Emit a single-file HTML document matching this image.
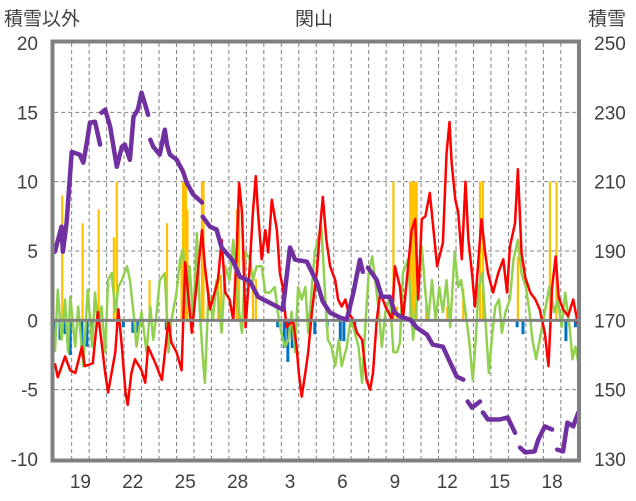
<!DOCTYPE html>
<html><head><meta charset="utf-8"><style>
html,body{margin:0;padding:0;background:#fff;width:636px;height:501px;overflow:hidden}
svg text{font-family:"Liberation Sans","Noto Sans CJK JP",sans-serif;fill:#404040}
</style></head><body>
<svg id="chart" width="636" height="501" viewBox="0 0 636 501" xmlns="http://www.w3.org/2000/svg">
<text x="4" y="25" font-size="19">積雪以外</text>
<text x="314" y="25" font-size="19" text-anchor="middle">関山</text>
<text x="588" y="25" font-size="19">積雪</text>
<g id="grid"></g>
<g id="marks"></g>
<g id="axes"></g>
</svg>
<script>
const leftTicks=[20,15,10,5,0,-5,-10];
const rightTicks=[250,230,210,190,170,150,130];
const xTickLabels=["19","22","25","28","3","6","9","12","15","18"];
const xTickDays=[1,4,7,10,13,16,19,22,25,28];
// precipitation bars [hour, value]
const precipHours=[11,39,61,82,86,131,155,175,177,179,181,183,203,205,225,229,251,254,273,277,466,471,489,492,495,498,511,540,562,585,589,637,681,690];
const precipVals=[9,7,8,6,10,2.9,7,5,10,10,10,8,10,10,3.3,3.3,8,8,3,3,10,1,10,10,10,10,1.3,1,2.3,10,10,4.6,10,10];
// negative (blue) bars
const negHours=[1,8,15,22,38,45,52,95,108,115,154,307,316,321,327,358,375,393,398,413,636,644,703,716];
const negVals=[-1.4,-1.4,-1,-2.5,-1.9,-1.9,-1.5,-0.5,-0.9,-0.9,-0.7,-0.5,-2,-3,-2,-1,-0.5,-1.5,-1.5,-0.8,-0.5,-1,-1.5,-0.5];
// red series
const redHours=[1,5,15,22,29,38,42,53,60,70,74,84,88,93,98,101,106,111,120,125,129,139,148,157,161,168,175,180,189,203,207,214,225,230,235,241,246,251,254,258,263,269,273,277,280,285,290,294,299,306,310,314,319,328,333,336,340,345,349,354,361,365,369,374,379,386,390,395,400,404,411,416,423,429,434,438,443,448,455,459,464,468,475,479,491,496,500,505,510,516,526,534,539,543,546,551,555,560,565,569,574,578,587,592,596,603,610,617,622,626,633,637,642,647,654,661,667,674,679,684,689,693,699,706,713,720];
const redVals=[-3.1,-4.1,-2.6,-3.6,-3.8,-1.9,-3.3,-3.1,0.6,-3.8,-5.2,-2.3,0.8,-1.9,-5.2,-6.1,-3.8,-2.8,-3.6,-4.5,-1.9,-3.1,-4.3,0,-1.6,-2.3,-3.6,4.2,-0.9,6.5,3.9,0.8,2.9,5.8,2,1.5,0,5.3,9.9,7.8,-0.5,4.2,7.8,10.4,7.8,4.4,6.5,4.9,8.7,6.5,3.4,2.4,-0.5,0,-1.9,-3.8,-5.5,-3.8,-2.3,0.6,3.6,6.5,8.9,5.8,3.9,2.9,1.5,1,1.5,0.6,0,-0.9,-1.4,-4.3,-5,-3.8,0,2,1,0.6,0,3.9,2.4,0,6.5,7.3,1.5,7.3,7.5,9.2,3.9,5.6,12,14.3,11.4,8.7,7.8,4.4,10,5.8,3.4,1,7.3,4.9,3.4,2,3.4,4.4,2,5.3,7,10.9,4.9,3.1,2,1.5,0.8,-0.9,-3.3,2.4,4.6,1.7,0.8,0.3,1.5,-0.4];
// green series
const greenHours=[1,5,10,15,19,22,29,33,40,46,52,56,60,65,70,74,79,84,88,93,100,104,109,113,120,127,132,136,141,145,152,157,161,168,173,177,182,186,191,196,200,205,207,212,218,223,230,235,241,246,253,258,263,269,273,278,285,290,296,303,307,312,317,322,326,331,335,340,345,349,354,358,362,367,372,376,381,386,391,395,402,407,411,418,423,428,432,437,441,446,450,455,461,466,471,475,479,486,493,500,505,510,514,519,524,529,534,539,544,550,555,559,565,570,575,579,583,588,593,597,602,606,611,615,620,626,631,637,642,648,653,657,662,667,674,680,687,692,697,702,708,712,716,721];
const greenVals=[-2.3,2.2,-1.4,1.5,-2.3,1.7,-1.9,1,-3.3,2.2,-1.9,2,-0.4,1,-2.3,2.9,3.4,0.6,2.4,2.9,3.9,2.9,0.6,-1.9,0.6,-2.3,1,-1.4,0.6,2.9,3.4,-2.3,0,2,4.4,5.1,1,3.9,0,6.3,0.6,-3.3,-4.5,2,0,2.9,-0.9,3.9,2.9,5.8,1,-0.9,4.9,4.4,2.9,3.9,3.9,2,2,2.4,0.6,-0.9,-1.9,-1.4,0.6,-2.3,2.4,1.5,2.4,-0.9,2.4,4.9,5.8,6.8,2,-1.4,-1.9,-3.3,-1.4,-3.3,-1.9,0,-0.5,-1.9,-4.5,0,3.4,4.6,2.9,0.6,-1.9,0.6,1.7,-2.3,-2.3,-1.6,3.4,4.4,-1.4,2.4,5.3,2,0,2.9,0,2.4,0.6,2.9,-0.5,4.9,2.4,2.9,0.6,-1.4,-4.3,-1.4,2.4,3.4,-0.5,-3.8,-0.9,1,1.5,-0.9,0.6,1.5,4.4,5.8,3.4,2.4,0.6,-1.4,-2.8,-1.4,0.6,2.4,0.6,1.5,-0.5,2,-0.5,-2.8,-1.9,-3.3];
// snow depth (right axis), null = gap
const snowHours=[1,10,12,17,24,35,40,45,49,56,63,64,65,70,77,86,93,97,104,109,115,120,125,129,130,132,136,145,152,155,159,168,177,182,191,203,203.5,204,214,223,230,242,246,255,269,280,296,314,324,331,347,361,369,379,393,402,411,420,424,427,431,443,450,461,468,475,489,498,512,520,534,544,553,562,565,568,574,585,587,589,596,612,623,633,636,640,647,660,665,674,684,687,691,699,705,713,720];
const snowVals=[189.8,197,189.8,198.2,218.6,217.8,215.5,221.5,227,227.3,220.7,null,229.9,230.8,225.8,214.3,220.1,220.7,216.3,228.7,230.8,235.7,232.2,229.3,null,222.1,220.1,217.8,225,220.7,217.8,216.4,212.9,209.7,206.3,204,null,199.9,197,196.2,191,188.1,186.9,182.6,181.2,176.8,175.1,173.1,191,187.5,186.9,180.9,175.4,172.2,170.8,170.2,178,187.5,184,null,185.2,181.7,176.8,176.8,172.2,171.1,170.2,167.9,165.9,163,162.4,157.8,153.8,152.9,null,146.6,144.8,146.6,null,143.4,141.4,141.4,142,137.6,null,133.3,131.9,132.2,135.6,139.4,138.5,null,132.7,132.2,140.5,139.4,143.4];

const NS="http://www.w3.org/2000/svg";
const X0=54.2,X1=578.3,Y0=43,Y1=459,TOTALH=720;
const xH=h=>X0+(X1-X0)*h/TOTALH;
const yL=v=>Y1-(v+10)/30*(Y1-Y0);
const yR=s=>yL((s-170)/4);
function mk(tag,attrs,parent){const e=document.createElementNS(NS,tag);for(const k in attrs)e.setAttribute(k,attrs[k]);parent.appendChild(e);return e;}
const grid=document.getElementById('grid'),marks=document.getElementById('marks'),axes=document.getElementById('axes');
// horizontal grid + left/right labels
leftTicks.forEach((v,i)=>{
  if(v!==0&&v!==20&&v!==-10){const l=mk('line',{x1:X0,x2:X1,y1:yL(v),y2:yL(v),stroke:'#808080','stroke-width':1,'stroke-dasharray':'4,3'},grid);
  
  }
  const t=mk('text',{x:38,y:yL(v)+7,'font-size':19,'text-anchor':'end'},axes);t.textContent=v;
  
  
  const r=mk('text',{x:610,y:yL(v)+7,'font-size':19,'text-anchor':'middle'},axes);r.textContent=rightTicks[i];
  
  
});
for(let d=1;d<30;d++){const l=mk('line',{x1:xH(d*24),x2:xH(d*24),y1:Y0,y2:Y1,stroke:'#808080','stroke-width':1,'stroke-dasharray':'4,3'},grid);
  
  }
xTickLabels.forEach((s,i)=>{const t=mk('text',{x:xH(xTickDays[i]*24+12),y:488,'font-size':19,'text-anchor':'middle'},axes);t.textContent=s;
  
  });
// bars
precipHours.forEach((h,i)=>{const b=mk('rect',{x:xH(h)-1.1,y:yL(precipVals[i]),width:2.2,height:yL(0)-yL(precipVals[i]),fill:'#FFC000'},marks);
  
  });
negHours.forEach((h,i)=>{const b=mk('rect',{x:xH(h)-1.5,y:yL(0),width:3,height:yL(negVals[i])-yL(0),fill:'#0070C0'},marks);
  
  });
function path(hs,vs,yf){let d='',pen=false;hs.forEach((h,i)=>{const v=vs[i];if(v===null){pen=false;return;}d+=(pen?'L':'M')+xH(h).toFixed(1)+','+yf(v).toFixed(1);pen=true;});return d;}
const g=mk('path',{d:path(greenHours,greenVals,yL),fill:'none',stroke:'#92D050','stroke-width':2.5,'stroke-linejoin':'round'},marks);


const r=mk('path',{d:path(redHours,redVals,yL),fill:'none',stroke:'#FF0000','stroke-width':2.5,'stroke-linejoin':'round'},marks);


const z=mk('line',{x1:X0,x2:X1,y1:yL(0),y2:yL(0),stroke:'#808080','stroke-width':3},marks);


const p=mk('path',{d:path(snowHours,snowVals,yR),fill:'none',stroke:'#7030A0','stroke-width':4.5,'stroke-linejoin':'round','stroke-linecap':'round'},marks);


const f=mk('rect',{x:52.5,y:41.5,width:526.5,height:419,fill:'none',stroke:'#808080','stroke-width':4},axes);


</script>
</body></html>
